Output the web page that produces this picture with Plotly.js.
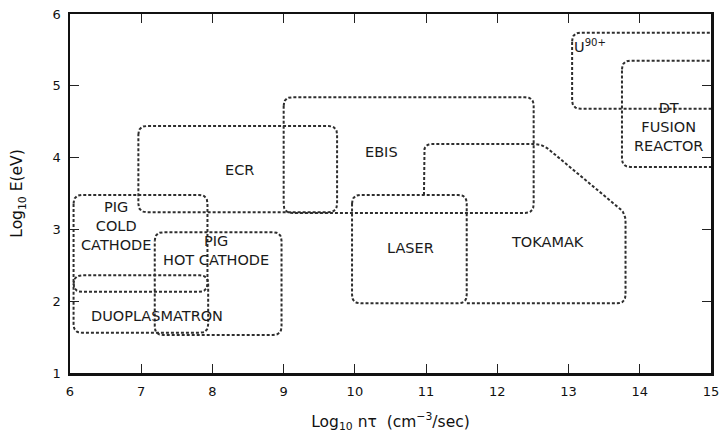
<!DOCTYPE html>
<html>
<head>
<meta charset="utf-8">
<script src="https://cdn.plot.ly/plotly-3.0.1.min.js"></script>
<style>html,body{margin:0;padding:0;background:#fff;}#chart{width:720px;height:441px;}</style>
</head>
<body>
<div id="chart"></div>
<script>
// ---- Data ----
// Rectangular regions: x = Log10 n*tau, y = Log10 E(eV)
const boxNames = ["ECR", "EBIS", "PIG COLD CATHODE", "DUOPLASMATRON", "PIG HOT CATHODE", "LASER", "U90+", "DT FUSION REACTOR"];
const boxX0 = [6.96, 9.00, 6.05, 6.05, 7.19, 9.96, 13.05, 13.75];
const boxX1 = [9.75, 12.51, 7.93, 7.94, 8.97, 11.57, 15.40, 15.40];
const boxY0 = [3.24, 3.23, 2.13, 1.56, 1.53, 1.97, 4.68, 3.87];
const boxY1 = [4.44, 4.84, 3.48, 2.36, 2.96, 3.48, 5.74, 5.35];

// Tokamak outline (open path that meets the LASER box)
const tokamakX = [10.97, 10.97, 12.63, 13.80, 13.80, 11.57];
const tokamakY = [3.48, 4.19, 4.19, 3.23, 1.97, 1.97];

// Region labels
const labelText = ["ECR", "EBIS", "PIG<br>COLD<br>CATHODE", "PIG<br>HOT CATHODE", "DUOPLASMATRON", "LASER", "TOKAMAK", "U<sup>90+</sup>", "DT<br>FUSION<br>REACTOR"];
const labelX = [8.38, 10.38, 6.65, 8.05, 7.22, 10.78, 12.70, 13.30, 14.40];
const labelY = [3.83, 4.08, 3.05, 2.70, 1.79, 2.74, 2.82, 5.55, 4.43];

// Axis ticks
const xTicks = [6, 7, 8, 9, 10, 11, 12, 13, 14, 15];
const yTicks = [1, 2, 3, 4, 5, 6];

// ---- Geometry helper: polyline with rounded interior corners ----
function roundPath(xs, ys, r, closed) {
  const n = xs.length;
  const ox = [], oy = [];
  for (let k = 0; k < n; k++) {
    const isEnd = !closed && (k === 0 || k === n - 1);
    if (isEnd) { ox.push(xs[k]); oy.push(ys[k]); continue; }
    const p = (k - 1 + n) % n, q = (k + 1) % n;
    const d1x = xs[p] - xs[k], d1y = ys[p] - ys[k];
    const d2x = xs[q] - xs[k], d2y = ys[q] - ys[k];
    const l1 = Math.hypot(d1x, d1y), l2 = Math.hypot(d2x, d2y);
    const rr = Math.min(r, l1 / 2, l2 / 2);
    const ax = xs[k] + d1x / l1 * rr, ay = ys[k] + d1y / l1 * rr;
    const bx = xs[k] + d2x / l2 * rr, by = ys[k] + d2y / l2 * rr;
    const steps = 8;
    for (let s = 0; s <= steps; s++) {
      const t = s / steps, mt = 1 - t;
      ox.push(mt * mt * ax + 2 * mt * t * xs[k] + t * t * bx);
      oy.push(mt * mt * ay + 2 * mt * t * ys[k] + t * t * by);
    }
  }
  if (closed) { ox.push(ox[0]); oy.push(oy[0]); }
  return {x: ox, y: oy};
}

const lineStyle = {color: '#2e2e2e', width: 2, dash: '3px,2px'};
const traces = [];
boxNames.forEach((name, i) => {
  const p = roundPath([boxX0[i], boxX1[i], boxX1[i], boxX0[i]],
                      [boxY1[i], boxY1[i], boxY0[i], boxY0[i]], 0.12, true);
  traces.push({type: 'scatter', mode: 'lines', name: name, x: p.x, y: p.y,
               line: lineStyle, hoverinfo: 'skip'});
});
const tk = roundPath(tokamakX, tokamakY, 0.12, false);
traces.push({type: 'scatter', mode: 'lines', name: 'TOKAMAK', x: tk.x, y: tk.y,
             line: lineStyle, hoverinfo: 'skip'});

const fam = 'DejaVu Sans, Verdana, sans-serif';
const annotations = labelText.map((t, i) => ({
  x: labelX[i], y: labelY[i], xref: 'x', yref: 'y', text: t, showarrow: false,
  font: {family: fam, size: 14.5, color: '#1a1a1a'},
  align: 'center'
}));

const tickFont = {family: fam, size: 13, color: '#111'};
const titleFont = {family: fam, size: 15.5, color: '#111'};
const layout = {
  width: 720, height: 441,
  margin: {l: 70, r: 9, t: 14, b: 68},
  paper_bgcolor: '#fff', plot_bgcolor: '#fff',
  showlegend: false,
  xaxis: {
    range: [6, 15], tickvals: xTicks, ticktext: xTicks.map(String),
    ticks: 'inside', ticklen: 9, tickwidth: 1.2, tickcolor: '#222',
    showline: true, linecolor: '#111', linewidth: 2.5, mirror: 'ticks',
    showgrid: false, zeroline: false, tickfont: tickFont, ticklabelstandoff: 5,
    title: {text: 'Log<sub>10</sub> nτ  (cm<sup>−3</sup>/sec)', font: titleFont, standoff: 18}
  },
  yaxis: {
    range: [1, 6], tickvals: yTicks, ticktext: yTicks.map(String),
    ticks: 'inside', ticklen: 9, tickwidth: 1.2, tickcolor: '#222',
    showline: true, linecolor: '#111', linewidth: 2.5, mirror: 'ticks',
    showgrid: false, zeroline: false, tickfont: tickFont, ticklabelstandoff: 4,
    title: {text: 'Log<sub>10</sub> E(eV)', font: titleFont, standoff: 26}
  },
  annotations: annotations
};

Plotly.newPlot('chart', traces, layout, {staticPlot: true, displayModeBar: false});
</script>
</body>
</html>
